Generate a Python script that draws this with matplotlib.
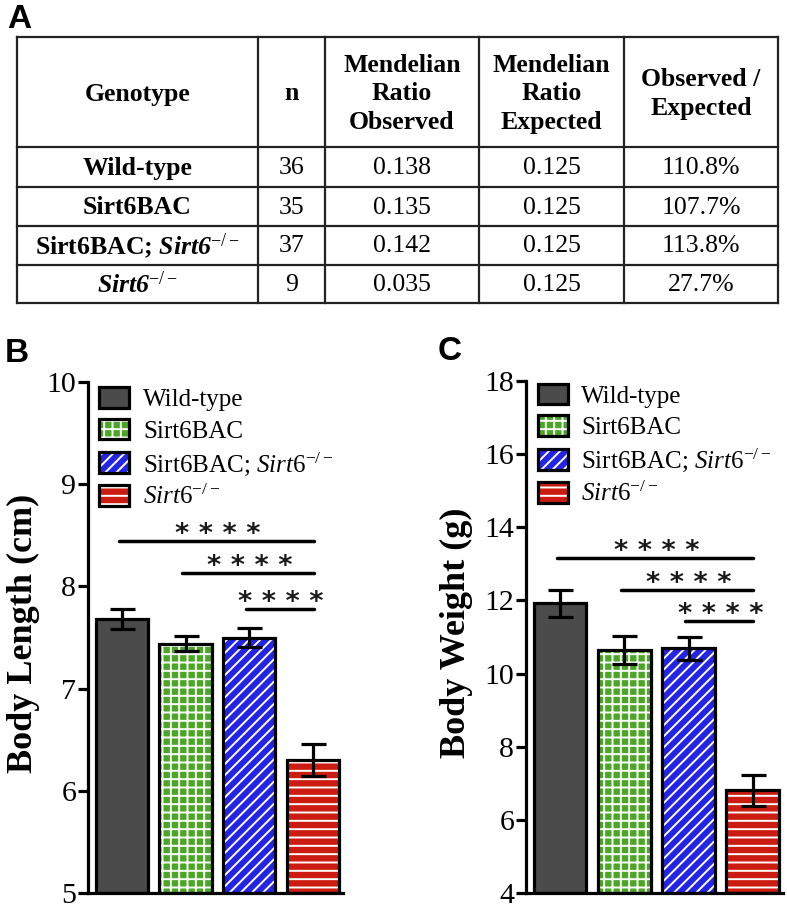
import matplotlib
matplotlib.use('Agg')
import matplotlib.pyplot as plt
from matplotlib.patches import Patch
from matplotlib.legend_handler import HandlerTuple
import numpy as np

plt.rcParams['font.family'] = ['Liberation Serif', 'DejaVu Serif']
plt.rcParams['mathtext.fontset'] = 'custom'
plt.rcParams['mathtext.rm'] = 'Liberation Serif'
plt.rcParams['mathtext.it'] = 'Liberation Serif:italic'
plt.rcParams['mathtext.bf'] = 'Liberation Serif:bold'
plt.rcParams['mathtext.bfit'] = 'Liberation Serif:italic:bold'
plt.rcParams['hatch.linewidth'] = 1.4

# ---- panel A: table ----
headers = ['Genotype', 'n', 'Mendelian\nRatio\nObserved', 'Mendelian\nRatio\nExpected', 'Observed /\nExpected']
genotypes = ['Wild-type', 'Sirt6BAC', r'Sirt6BAC; $\mathbfit{Sirt6}^{-/-}$', r'$\mathbfit{Sirt6}^{-/-}$']
n_mice = ['36', '35', '37', '9']
ratio_obs = ['0.138', '0.135', '0.142', '0.035']
ratio_exp = ['0.125', '0.125', '0.125', '0.125']
obs_vs_exp = ['110.8%', '107.7%', '113.8%', '27.7%']

# ---- panels B and C: bars ----
groups = ['Wild-type', 'Sirt6BAC', r'Sirt6BAC; $\mathit{Sirt6}^{-/-}$', r'$\mathit{Sirt6}^{-/-}$']
length_mean = [7.68, 7.44, 7.50, 6.30]
length_sem = [0.10, 0.07, 0.09, 0.16]
weight_mean = [11.92, 10.64, 10.69, 6.81]
weight_sem = [0.37, 0.39, 0.31, 0.43]
sig_pairs = [(0, 3), (1, 3), (2, 3)]
sig_text = '* * * *'
length_sig_y = [8.44, 8.13, 7.78]
weight_sig_y = [13.15, 12.28, 11.43]

colors = ['#4b4b4b', '#4aa624', '#2424e6', '#cc1c12']
hatches = [None, '++', '///', '--']

fig = plt.figure(figsize=(7.87, 9.08), dpi=100)

# overlay in pixel coordinates for the table and panel letters
over = fig.add_axes([0, 0, 1, 1])
over.set_xlim(0, 787)
over.set_ylim(908, 0)
over.axis('off')

col_x = [17, 258, 325, 479, 624, 778]
row_y = [37, 147, 187, 226, 265, 303]
for xx in col_x:
    over.plot([xx, xx], [row_y[0], row_y[-1]], color='#222222', lw=1.6)
for yy in row_y:
    over.plot([col_x[0], col_x[-1]], [yy, yy], color='#222222', lw=1.6)

tfs = 18.5
for j, h in enumerate(headers):
    cx = (col_x[j] + col_x[j + 1]) / 2
    cy = (row_y[0] + row_y[1]) / 2 + 2
    over.text(cx, cy, h, ha='center', va='center', fontsize=tfs, fontweight='bold',
              linespacing=1.3)
columns = [genotypes, n_mice, ratio_obs, ratio_exp, obs_vs_exp]
for j, col in enumerate(columns):
    cx = (col_x[j] + col_x[j + 1]) / 2
    for i, val in enumerate(col):
        cy = (row_y[i + 1] + row_y[i + 2]) / 2 + 1
        over.text(cx, cy, val, ha='center', va='center', fontsize=tfs,
                  fontweight='bold' if j == 0 else 'normal')

for letter, (lx, ly) in zip('ABC', [(7, 20), (5, 353), (438, 352)]):
    over.text(lx, ly, letter, ha='left', va='center', fontsize=24, fontweight='bold',
              family='Liberation Sans')


def bar_panel(rect, means, sems, ylim, ticks, sig_y, ylabel, label_x, leg_y):
    ax = fig.add_axes(rect)
    x = np.arange(len(means))
    base = ylim[0]
    heights = [m - base for m in means]
    ax.bar(x, heights, bottom=base, width=0.82, color=colors, linewidth=0, zorder=2)
    for i in range(len(means)):
        if hatches[i]:
            ax.bar(x[i], heights[i], bottom=base, width=0.82, color=colors[i],
                   edgecolor='white', hatch=hatches[i], linewidth=0, zorder=2)
    ax.bar(x, heights, bottom=base, width=0.82, fill=False, edgecolor='black',
           linewidth=2.3, zorder=3)
    ax.errorbar(x, means, yerr=sems, fmt='none', ecolor='black', elinewidth=2.3,
                capsize=9, capthick=2.3, zorder=4)

    for (a, b), yy in zip(sig_pairs, sig_y):
        ax.plot([a - 0.05, b + 0.01], [yy, yy], color='black', lw=2.5,
                solid_capstyle='round', zorder=4)
        ax.annotate(sig_text, ((a + b) / 2, yy), xytext=(0, 4.5), textcoords='offset points',
                    ha='center', va='center', fontsize=19.5, family='DejaVu Sans',
                    fontweight='bold', color='#1a1a1a')

    ax.set_xlim(-0.53, 3.47)
    ax.set_ylim(*ylim)
    ax.set_yticks(ticks)
    ax.set_xticks([])
    for s in ['top', 'right']:
        ax.spines[s].set_visible(False)
    for s in ['left', 'bottom']:
        ax.spines[s].set_linewidth(2.3)
    ax.tick_params(axis='y', length=7, width=2.3, labelsize=21.5, pad=1.5)

    handles = [(Patch(facecolor=c, edgecolor='white', hatch=h, linewidth=0),
                Patch(fill=False, edgecolor='black', linewidth=2.3))
               for c, h in zip(colors, hatches)]
    ax.legend(handles, groups, handler_map={tuple: HandlerTuple(ndivide=1, pad=0)},
              loc='upper left', bbox_to_anchor=(0.045, leg_y), frameon=False, fontsize=18,
              handlelength=1.2, handleheight=0.9, handletextpad=0.55, labelspacing=0.3,
              borderpad=0, borderaxespad=0)

    over.text(label_x, 633, ylabel, rotation=90, ha='center', va='center',
              fontsize=26, fontweight='bold')
    return ax


bar_panel([88 / 787, 15 / 908, 255 / 787, 511 / 908], length_mean, length_sem,
          (5, 10), [5, 6, 7, 8, 9, 10], length_sig_y, 'Body Length (cm)', 23, 0.99)
bar_panel([526 / 787, 15 / 908, 257 / 787, 512 / 908], weight_mean, weight_sem,
          (4, 18), [4, 6, 8, 10, 12, 14, 16, 18], weight_sig_y, 'Body Weight (g)', 456, 0.995)

fig.savefig('out.png', dpi=100)
